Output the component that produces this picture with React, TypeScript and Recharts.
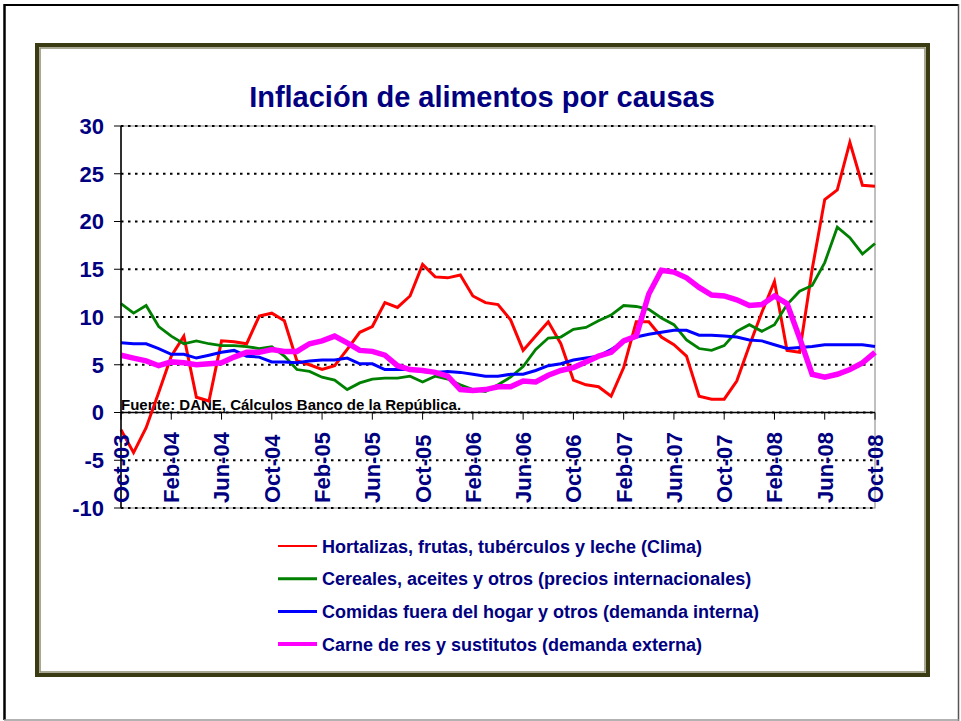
import React from 'react';
import { LineChart, Line, XAxis, YAxis, CartesianGrid, ReferenceLine } from 'recharts';

const months = [
  'Oct-03', 'Nov-03', 'Dec-03',
  'Jan-04', 'Feb-04', 'Mar-04', 'Apr-04', 'May-04', 'Jun-04', 'Jul-04', 'Aug-04', 'Sep-04', 'Oct-04', 'Nov-04', 'Dec-04',
  'Jan-05', 'Feb-05', 'Mar-05', 'Apr-05', 'May-05', 'Jun-05', 'Jul-05', 'Aug-05', 'Sep-05', 'Oct-05', 'Nov-05', 'Dec-05',
  'Jan-06', 'Feb-06', 'Mar-06', 'Apr-06', 'May-06', 'Jun-06', 'Jul-06', 'Aug-06', 'Sep-06', 'Oct-06', 'Nov-06', 'Dec-06',
  'Jan-07', 'Feb-07', 'Mar-07', 'Apr-07', 'May-07', 'Jun-07', 'Jul-07', 'Aug-07', 'Sep-07', 'Oct-07', 'Nov-07', 'Dec-07',
  'Jan-08', 'Feb-08', 'Mar-08', 'Apr-08', 'May-08', 'Jun-08', 'Jul-08', 'Aug-08', 'Sep-08', 'Oct-08',
];

const xTicks = [
  'Oct-03', 'Feb-04', 'Jun-04', 'Oct-04', 'Feb-05', 'Jun-05', 'Oct-05', 'Feb-06',
  'Jun-06', 'Oct-06', 'Feb-07', 'Jun-07', 'Oct-07', 'Feb-08', 'Jun-08', 'Oct-08',
];

const yTicks = [-10, -5, 0, 5, 10, 15, 20, 25, 30];

const clima = [
  -1.8, -4.2, -1.6, 2.1, 5.9, 8.0, 1.6, 1.2, 7.5, 7.4, 7.2, 10.1, 10.4, 9.6, 5.4, 5.0, 4.5, 4.9, 6.6, 8.4,
  9.0, 11.5, 11.0, 12.2, 15.5, 14.2, 14.1, 14.4, 12.2, 11.5, 11.3, 9.7, 6.5, 8.0, 9.5, 7.2, 3.4, 2.9, 2.7, 1.7, 4.7,
  9.5, 9.5, 7.9, 7.1, 5.9, 1.7, 1.4, 1.4, 3.3, 7.0, 10.5, 13.7, 6.5, 6.3, 15.0, 22.3, 23.3, 28.3, 23.8, 23.7,
];

const cereales = [
  11.4, 10.4, 11.2, 9.0, 8.0, 7.2, 7.5, 7.2, 7.0, 7.0, 6.9, 6.7, 6.9, 5.9, 4.5, 4.3, 3.7, 3.4, 2.4, 3.1,
  3.5, 3.6, 3.6, 3.8, 3.2, 3.8, 3.5, 2.9, 2.4, 2.2, 2.9, 3.7, 4.8, 6.6, 7.8, 7.9, 8.7, 8.9, 9.6, 10.2, 11.2,
  11.1, 10.8, 9.9, 9.2, 7.6, 6.7, 6.5, 7.0, 8.5, 9.2, 8.5, 9.2, 11.3, 12.7, 13.3, 15.7, 19.4, 18.3, 16.6, 17.7,
];

const comidas = [
  7.3, 7.2, 7.2, 6.7, 6.1, 6.1, 5.7, 6.0, 6.3, 6.5, 5.9, 5.8, 5.3, 5.3, 5.2, 5.4, 5.5, 5.5, 5.7, 5.1,
  5.1, 4.5, 4.5, 4.5, 4.3, 4.2, 4.3, 4.2, 4.0, 3.8, 3.8, 4.0, 4.0, 4.4, 4.9, 5.1, 5.5, 5.7, 5.9, 6.6, 7.4,
  7.9, 8.2, 8.4, 8.6, 8.6, 8.1, 8.1, 8.0, 7.9, 7.6, 7.5, 7.1, 6.7, 6.8, 6.9, 7.1, 7.1, 7.1, 7.1, 6.9,
];

const carne = [
  6.0, 5.7, 5.4, 4.9, 5.3, 5.2, 5.0, 5.1, 5.2, 5.8, 6.3, 6.3, 6.6, 6.4, 6.4, 7.2, 7.5, 8.0, 7.3, 6.5,
  6.4, 6.0, 4.9, 4.5, 4.4, 4.2, 3.8, 2.4, 2.3, 2.4, 2.7, 2.7, 3.3, 3.2, 3.9, 4.4, 4.7, 5.3, 5.9, 6.3, 7.5,
  8.0, 12.4, 14.9, 14.7, 14.1, 13.1, 12.3, 12.2, 11.8, 11.2, 11.3, 12.2, 11.4, 7.8, 4.0, 3.7, 4.0, 4.5, 5.2, 6.3,
];

const seriesKeys = ['clima', 'cereales', 'comidas', 'carne'];
const seriesNames = [
  'Hortalizas, frutas, tubérculos y leche (Clima)',
  'Cereales, aceites y otros (precios internacionales)',
  'Comidas fuera del hogar y otros (demanda interna)',
  'Carne de res y sustitutos (demanda externa)',
];
const seriesColors = ['#FF0000', '#008000', '#0000FF', '#FF00FF'];
const seriesWidths = [3, 2.8, 3, 5.5];
const legendWidths = [2, 3, 3, 4];

const title = 'Inflación de alimentos por causas';
const source = 'Fuente: DANE, Cálculos Banco de la República.';

const data = months.map((m, i) => ({
  m,
  clima: clima[i],
  cereales: cereales[i],
  comidas: comidas[i],
  carne: carne[i],
}));

const FONT = '"Liberation Sans", Arial, sans-serif';
const NAVY = '#000080';

const XTick = (props: any) => {
  const { x, payload } = props;
  const by = 503;
  return (
    <text
      x={x}
      y={by}
      transform={`rotate(-90 ${x} ${by})`}
      textAnchor="start"
      dy="0.36em"
      fill={NAVY}
      fontSize={22}
      fontWeight="bold"
      fontFamily={FONT}
    >
      {payload.value}
    </text>
  );
};

export default function App() {
  return (
    <div style={{ position: 'absolute', left: 0, top: 0, width: 961, height: 721, background: '#fff' }}>
      <svg width={961} height={721} style={{ position: 'absolute', left: 0, top: 0 }}>
        {/* outer border */}
        <line x1={4.5} y1={4} x2={4.5} y2={720} stroke="#000" strokeWidth={2.5} />
        <line x1={4} y1={5} x2={959} y2={5} stroke="#000" strokeWidth={2} />
        <line x1={958.5} y1={4} x2={958.5} y2={721} stroke="#555" strokeWidth={1.5} />
        <line x1={4} y1={720} x2={959} y2={720} stroke="#999" strokeWidth={1.5} />
        {/* inner frame */}
        <rect x={37} y={45} width={891} height={630} fill="none" stroke="#3b3b13" strokeWidth={4} />
        <rect x={40} y={48} width={885} height={624} fill="none" stroke="#8c8c70" strokeWidth={1.5} />
        {/* plot frame */}
        <rect x={121} y={126} width={754} height={382} fill="none" stroke="#808080" strokeWidth={1} />
        <text x={482} y={107} textAnchor="middle" fill={NAVY} fontSize={29} fontWeight="bold" fontFamily={FONT}>
          {title}
        </text>
        <text x={121} y={410} fill="#000" fontSize={15} fontWeight="bold" fontFamily={FONT}>
          {source}
        </text>
        {seriesNames.map((n, i) => {
          const ry = 546 + i * 32.7;
          return (
            <g key={n}>
              <line x1={278} y1={ry} x2={317} y2={ry} stroke={seriesColors[i]} strokeWidth={legendWidths[i]} />
              <text x={322} y={ry + 6.5} fill={NAVY} fontSize={18} fontWeight="bold" fontFamily={FONT}>
                {n}
              </text>
            </g>
          );
        })}
      </svg>
      <div style={{ position: 'absolute', left: 0, top: 0 }}>
        <LineChart
          width={961}
          height={721}
          data={data}
          margin={{ top: 126, right: 86, bottom: 183, left: 0 }}
        >
          <CartesianGrid
            horizontal
            vertical={false}
            stroke="#000"
            strokeWidth={2}
            strokeDasharray="2.5 4.5"
          />
          <XAxis
            dataKey="m"
            ticks={xTicks}
            interval={0}
            axisLine={false}
            tickLine={false}
            height={30}
            tick={<XTick />}
          />
          <YAxis
            type="number"
            domain={[-10, 30]}
            ticks={yTicks}
            interval={0}
            width={121}
            tickSize={7}
            tickMargin={10}
            axisLine={{ stroke: '#000', strokeWidth: 1.5 }}
            tickLine={{ stroke: '#000', strokeWidth: 1 }}
            tick={{ fill: NAVY, fontSize: 22, fontWeight: 'bold', fontFamily: FONT }}
          />
          <ReferenceLine y={0} stroke="#000" strokeWidth={1.5} />
          {xTicks.map((t) => (
            <ReferenceLine
              key={t}
              segment={[{ x: t, y: 0 }, { x: t, y: -0.75 }]}
              stroke="#000"
              strokeWidth={1}
            />
          ))}
          {seriesKeys.map((k, i) => (
            <Line
              key={k}
              type="linear"
              dataKey={k}
              name={seriesNames[i]}
              stroke={seriesColors[i]}
              strokeWidth={seriesWidths[i]}
              dot={false}
              activeDot={false}
              isAnimationActive={false}
            />
          ))}
        </LineChart>
      </div>
    </div>
  );
}
